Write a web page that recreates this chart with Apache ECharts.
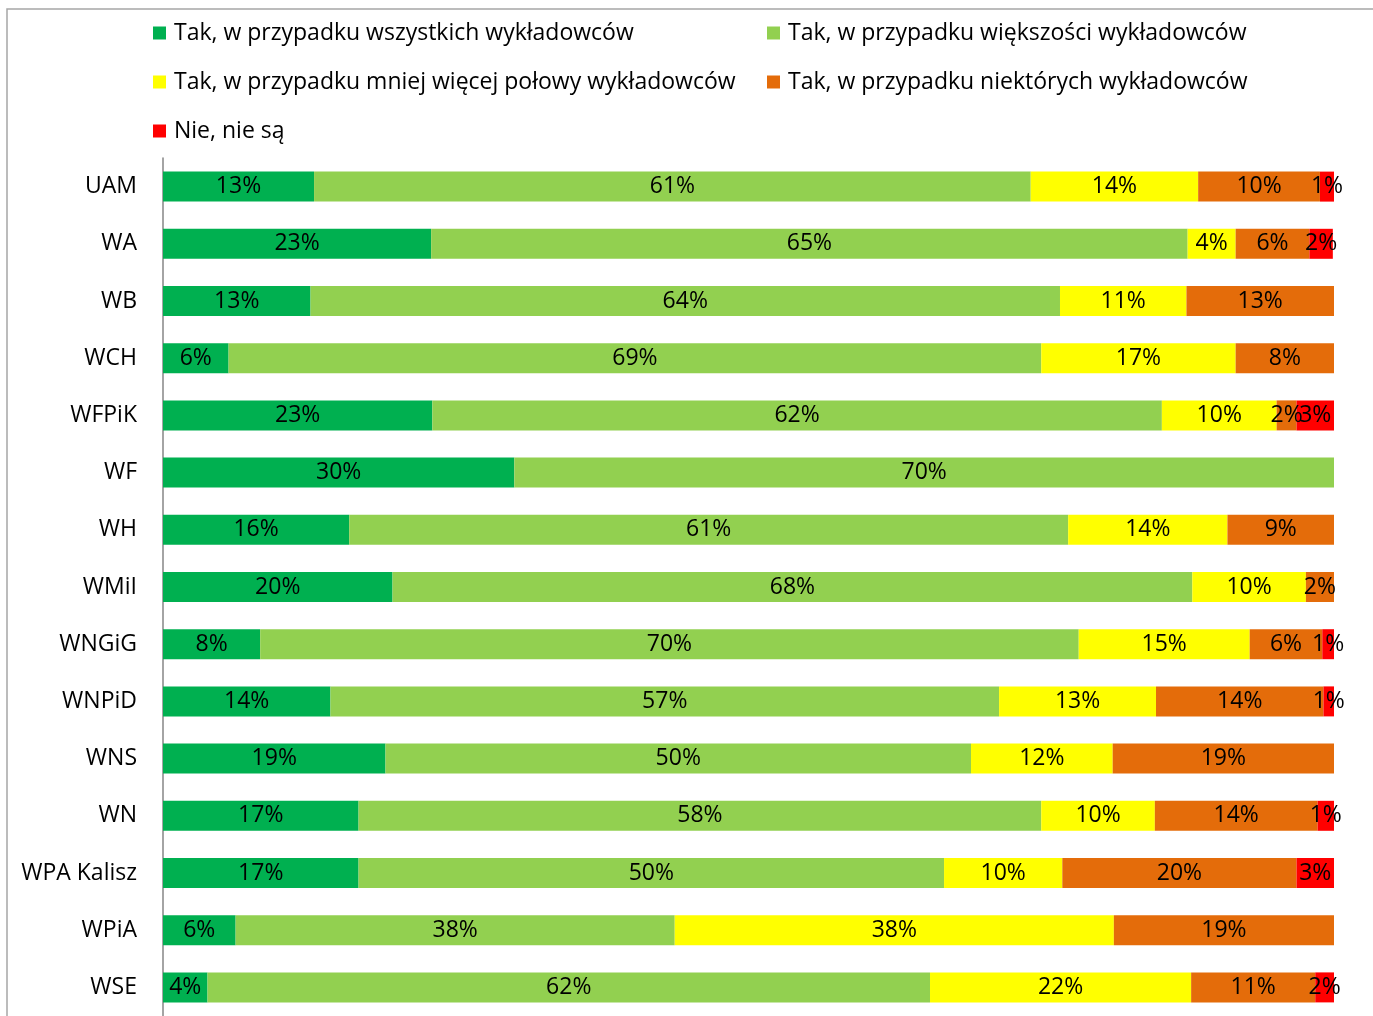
<!DOCTYPE html>
<html>
<head>
<meta charset="utf-8">
<script src="https://cdn.jsdelivr.net/npm/echarts@6/dist/echarts.min.js"></script>
<style>
html,body{margin:0;padding:0;background:#fff;}
#chart{width:1373px;height:1016px;}
</style>
</head>
<body>
<div id="chart"></div>
<script>
var categories = ['UAM','WA','WB','WCH','WFPiK','WF','WH','WMiI','WNGiG','WNPiD','WNS','WN','WPA Kalisz','WPiA','WSE'];
var seriesNames = [
  'Tak, w przypadku wszystkich wykładowców',
  'Tak, w przypadku większości wykładowców',
  'Tak, w przypadku mniej więcej połowy wykładowców',
  'Tak, w przypadku niektórych wykładowców',
  'Nie, nie są'
];
var allLecturers  = [12.9, 22.9, 12.6, 5.6, 23.0, 30.0, 15.9, 19.6, 8.3, 14.3, 19.0, 16.7, 16.7, 6.2, 3.8];
var mostLecturers = [61.2, 64.6, 64.0, 69.4, 62.3, 70.0, 61.4, 68.3, 69.9, 57.1, 50.0, 58.3, 50.0, 37.5, 61.7];
var halfLecturers = [14.3, 4.1, 10.8, 16.6, 9.8, null, 13.6, 9.7, 14.6, 13.4, 12.1, 9.7, 10.1, 37.5, 22.3];
var someLecturers = [10.4, 6.3, 12.6, 8.4, 1.7, null, 9.1, 2.4, 6.2, 14.3, 18.9, 13.9, 20.0, 18.8, 10.6];
var noneLecturers = [1.2, 2.0, null, null, 3.2, null, null, null, 1.0, 0.9, null, 1.4, 3.2, null, 1.6];
var colors = ['#00B050', '#92D050', '#FFFF00', '#E46C0A', '#FF0000'];
var values = [allLecturers, mostLecturers, halfLecturers, someLecturers, noneLecturers];

var FONT = 'Open Sans';
var FS = 23;
var chart = echarts.init(document.getElementById('chart'));

var series = values.map(function (arr, i) {
  return {
    name: seriesNames[i],
    type: 'bar',
    stack: 'total',
    barWidth: 30,
    data: arr,
    itemStyle: { color: colors[i] },
    label: {
      show: true,
      position: 'inside',
      color: '#000',
      fontFamily: FONT,
      fontSize: FS,
      offset: [0, 2],
      formatter: function (p) {
        if (p.value == null) return '';
        return Math.round(p.value) + '%';
      }
    },
    labelLayout: { hideOverlap: false }
  };
});

var legendText = { fontFamily: FONT, fontSize: FS, color: '#000', lineHeight: 26, padding: [0, 0, 0, 3] };

chart.setOption({
  animation: false,
  textStyle: { fontFamily: FONT },
  graphic: [{
    type: 'rect',
    shape: { x: 7, y: 9, width: 1400, height: 1100 },
    style: { fill: 'none', stroke: '#A6A6A6', lineWidth: 1.5 },
    z: -10
  }],
  legend: [
    {
      left: 153, top: 20, orient: 'vertical', padding: 0,
      itemWidth: 13, itemHeight: 13, itemGap: 23, icon: 'rect',
      textStyle: legendText,
      data: [seriesNames[0], seriesNames[2], seriesNames[4]]
    },
    {
      left: 767, top: 20, orient: 'vertical', padding: 0,
      itemWidth: 13, itemHeight: 13, itemGap: 23, icon: 'rect',
      textStyle: legendText,
      data: [seriesNames[1], seriesNames[3]]
    }
  ],
  grid: { left: 163, right: 39, top: 158, bottom: -5, containLabel: false },
  xAxis: {
    type: 'value', min: 0, max: 100, show: false
  },
  yAxis: {
    type: 'category',
    data: categories,
    inverse: true,
    axisLine: { show: true, lineStyle: { color: '#868686', width: 1.5 } },
    axisTick: { show: false },
    axisLabel: { color: '#000', fontFamily: FONT, fontSize: FS, margin: 26 }
  },
  series: series
});
</script>
</body>
</html>
